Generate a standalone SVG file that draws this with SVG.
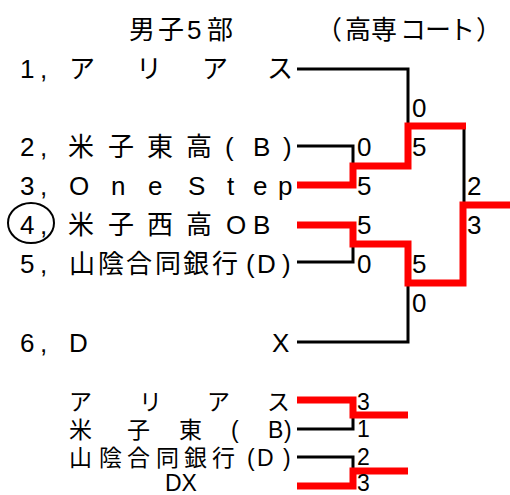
<svg xmlns="http://www.w3.org/2000/svg" width="510" height="495" viewBox="0 0 510 495">
<style>
text{font-family:"Liberation Sans","Noto Sans CJK JP",sans-serif;fill:#000}
.t{font-size:26px}
.s{font-size:26px}
.b{font-size:23px}
.bk{fill:none;stroke:#000;stroke-width:3}
.rd{fill:none;stroke:#f00;stroke-width:7}
</style>
<rect width="510" height="495" fill="#fff"/>
<g id="title">
<text class="t" x="129 158 187 207" y="39">男子5部</text>
<text class="t" x="316 345 371 400 425 449 476" y="39">（高専コート）</text>
</g>
<g id="connectors">
<path class="bk" d="M297,69 H408 V126"/>
<path class="bk" d="M297,146 H353 V166"/>
<path class="bk" d="M297,262 H353 V244"/>
<path class="bk" d="M297,342 H408 V283"/>
<path class="bk" d="M464,126 V205"/>
<path class="rd" d="M297,185 H353 V166 H408 V126 H466"/>
<path class="rd" d="M297,225 H353 V244 H408 V283 H463 V205 H510"/>
<path class="bk" d="M297,429 H353 V415"/>
<path class="bk" d="M297,457 H353 V471"/>
<path class="rd" d="M297,400 H353 V415 H408"/>
<path class="rd" d="M297,486 H353 V471 H408"/>
</g>
<g id="team1"><text class="s" x="20 40 69 136 202 267" y="78">1,アリアス</text></g>
<g id="team2"><text class="s" x="20 40 68 108 147 186 225 253 283" y="156">2,米子東高(B)</text></g>
<g id="team3"><text class="s" x="20 40 69 111 148 170 188 227 253 278" y="195">3,One Step</text></g>
<g id="team4"><ellipse cx="31" cy="223" rx="23" ry="20" fill="none" stroke="#000" stroke-width="2"/><text class="s" x="20 40 68 108 147 186 226 253" y="234">4,米子西高OB</text></g>
<g id="team5"><text class="s" x="20 40 69 98 126 155 183 212 246 257 282" y="273">5,山陰合同銀行(D)</text></g>
<g id="team6"><text class="s" x="20 40 69 272" y="352">6,DX</text></g>
<g id="scores">
<text class="s" x="412" y="117">0</text>
<text class="s" x="357" y="156">0</text>
<text class="s" x="412" y="156">5</text>
<text class="s" x="357" y="195">5</text>
<text class="s" x="467" y="195">2</text>
<text class="s" x="357" y="234">5</text>
<text class="s" x="467" y="234">3</text>
<text class="s" x="357" y="273">0</text>
<text class="s" x="412" y="273">5</text>
<text class="s" x="412" y="312">0</text>
</g>
<g id="match1">
<text class="b" x="69 139 207 267" y="410">アリアス</text>
<text class="b" x="69 127 179 231 268 284" y="438">米子東(B)</text>
<text class="b" x="357" y="410">3</text>
<text class="b" x="357" y="437">1</text>
</g>
<g id="match2">
<text class="b" x="69 99 127 156 184 212 247 257 283" y="466">山陰合同銀行(D)</text>
<text class="b" x="165" y="491">DX</text>
<text class="b" x="357" y="465">2</text>
<text class="b" x="357" y="491">3</text>
</g>
</svg>
